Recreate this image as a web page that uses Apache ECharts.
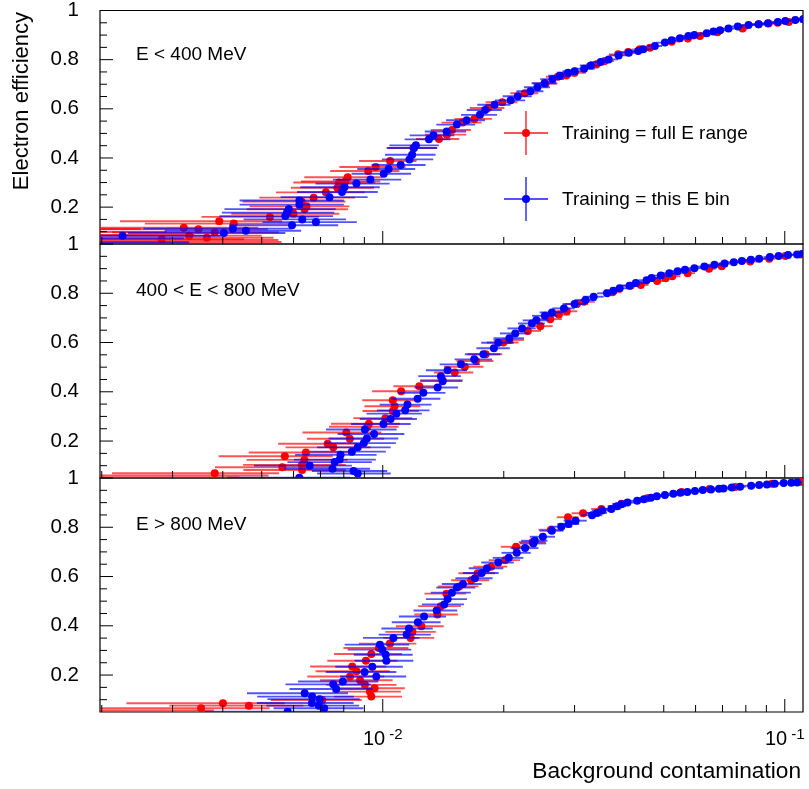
<!DOCTYPE html>
<html>
<head>
<meta charset="utf-8">
<script src="https://cdn.jsdelivr.net/npm/echarts@6/dist/echarts.min.js"></script>
<style>html,body{margin:0;padding:0;background:#fff;}#c{width:809px;height:789px;}</style>
</head>
<body>
<div id="c"></div>
<script>
// ---- data: [background contamination, electron efficiency, horizontal error] ----
const effLowRed = [
[0.0014,0.111,0.0011],[0.0015,0.099,0.0014],[0.0016,0.087,0.0018],[0.0017,0.066,0.0038],[0.0016,0.058,0.0040],
[0.00282,0.0692,0.0017],[0.00320,0.1165,0.0017],[0.00330,0.0839,0.0017],[0.00348,0.110,0.0017],[0.00365,0.0757,0.0017],
[0.00382,0.0978,0.0017],[0.00392,0.1427,0.0017],[0.00426,0.1329,0.0017],[0.00524,0.1602,0.0017],[0.00600,0.1733,0.0018],
[0.00628,0.2227,0.0018],[0.00639,0.1916,0.0018],[0.00646,0.2031,0.0018],[0.00673,0.2386,0.0018],[0.00722,0.2602,0.0018],
[0.00771,0.2786,0.0018],[0.00779,0.3002,0.0018],[0.00806,0.3043,0.0018],[0.00818,0.3215,0.0018],[0.00920,0.3472,0.0018],
[0.00960,0.3631,0.0018],[0.01043,0.3876,0.0017],[0.01192,0.4406,0.0017],[0.0138,0.4774,0.0017],[0.01444,0.4949,0.0017],
[0.01487,0.5141,0.0017],[0.0158,0.5439,0.0018],[0.01689,0.559,0.0018],[0.01827,0.6031,0.0018],[0.01983,0.6268,0.0018],
[0.02256,0.6635,0.0018],[0.0254,0.7031,0.0018],[0.02726,0.7305,0.0018],[0.02861,0.7358,0.0018],[0.0300,0.7468,0.002],
[0.03399,0.7807,0.002],[0.03565,0.7942,0.002],[0.0385,0.8215,0.002],[0.04078,0.8309,0.002],[0.04358,0.8419,0.002],
[0.0462,0.848,0.002],[0.0523,0.8733,0.0025],[0.0574,0.886,0.0025],[0.06152,0.8962,0.0025],[0.068,0.912,0.0025],
[0.07852,0.9264,0.0025],[0.0861,0.944,0.0033],[0.09117,0.9468,0.0033],[0.096,0.950,0.0033],[0.1023,0.9533,0.0033],[0.1112,0.9644,0.0033]
];
const effLowBlue = [
[0.0016,0.073,0.0016],[0.0015,0.057,0.0018],
[0.002253,0.0835,0.0017],[0.004024,0.0949,0.0017],[0.004237,0.1125,0.0017],[0.004566,0.1039,0.0017],[0.005723,0.1635,0.0018],
[0.005779,0.1778,0.0018],[0.005839,0.192,0.0018],[0.005947,0.1263,0.0018],[0.006204,0.2268,0.0018],[0.006204,0.21,0.0018],
[0.006305,0.15,0.0018],[0.006819,0.139,0.0018],[0.00737,0.2406,0.0018],[0.007919,0.2615,0.0018],[0.008034,0.2806,0.0018],
[0.0086,0.2957,0.0018],[0.009316,0.3121,0.0018],[0.01006,0.3357,0.0017],[0.01034,0.3549,0.0017],[0.01108,0.3717,0.0017],
[0.01165,0.3941,0.0017],[0.01183,0.4133,0.0017],[0.01196,0.4406,0.0017],[0.01209,0.4513,0.0017],[0.01303,0.4758,0.0017],
[0.01337,0.4921,0.0017],[0.01442,0.508,0.0017],[0.01529,0.5358,0.0017],[0.01617,0.5533,0.0018],[0.01745,0.5754,0.0018],
[0.01798,0.595,0.0018],[0.01898,0.6166,0.0018],[0.02081,0.6345,0.0018],[0.02167,0.6509,0.0018],[0.0233,0.6717,0.0018],
[0.02425,0.6876,0.0018],[0.02525,0.7043,0.0018],[0.02644,0.7207,0.0018],[0.02759,0.7345,0.0018],[0.02889,0.7468,0.0018],
[0.0300,0.7533,0.002],[0.03168,0.7631,0.002],[0.0329,0.7766,0.002],[0.03484,0.7901,0.002],[0.03647,0.8011,0.002],
[0.03862,0.8174,0.002],[0.04093,0.8284,0.002],[0.04319,0.835,0.002],[0.04446,0.8419,0.002],[0.04751,0.8554,0.002],
[0.05033,0.8693,0.0025],[0.0523,0.8786,0.0025],[0.05485,0.8868,0.0025],[0.05757,0.8962,0.0025],[0.05958,0.9003,0.0025],
[0.06395,0.9072,0.0025],[0.06646,0.9142,0.0025],[0.069,0.9195,0.0025],[0.07244,0.9264,0.0025],[0.07641,0.9346,0.0025],
[0.08126,0.9411,0.0033],[0.0861,0.944,0.0033],[0.0908,0.948,0.0033],[0.09614,0.9533,0.0033],[0.1003,0.9574,0.0033],
[0.1062,0.9615,0.0033],[0.1112,0.9644,0.0033]
];
const effMidRed = [
[0.0016,0.06,0.0036],[0.0014,0.052,0.0030],
[0.00382,0.0692,0.0017],[0.005626,0.0937,0.0018],[0.005707,0.1386,0.0018],[0.0063,0.0827,0.0018],[0.006293,0.1031,0.0018],
[0.006385,0.1235,0.0018],[0.00644,0.1533,0.0018],[0.007294,0.1888,0.0018],[0.007532,0.1745,0.0018],[0.008117,0.2349,0.0018],
[0.008281,0.2092,0.0018],[0.009152,0.2582,0.0018],[0.009237,0.2704,0.0018],[0.01015,0.2929,0.0017],[0.0106,0.3223,0.0017],
[0.0107,0.341,0.0017],[0.01059,0.3655,0.0017],[0.01111,0.4023,0.0017],[0.01233,0.4227,0.0017],[0.01409,0.4472,0.0017],
[0.0151,0.4786,0.0017],[0.016,0.5019,0.0018],[0.01705,0.5247,0.0018],[0.01803,0.5521,0.0018],[0.01995,0.60,0.0018],
[0.02065,0.6105,0.0018],[0.02295,0.6472,0.0018],[0.02466,0.6664,0.0018],[0.0261,0.695,0.0018],[0.02742,0.7133,0.0018],
[0.02869,0.7268,0.0018],[0.03041,0.7562,0.002],[0.03168,0.7656,0.002],[0.03726,0.804,0.002],[0.0414,0.8309,0.002],
[0.04384,0.8337,0.002],[0.04814,0.85,0.002],[0.05053,0.8611,0.0025],[0.05251,0.8693,0.0025],[0.05733,0.8815,0.0025],
[0.0648,0.8991,0.0025],[0.06972,0.91,0.0025],[0.08201,0.9289,0.0033],[0.09148,0.9399,0.0033],[0.1003,0.9509,0.0033],
[0.1093,0.9574,0.0033]
];
const effMidBlue = [
[0.0062,0.0508,0.0021],
[0.006581,0.1002,0.0018],[0.007498,0.0876,0.0018],[0.007593,0.1145,0.0018],[0.007813,0.1247,0.0018],[0.007852,0.1439,0.0018],
[0.008377,0.157,0.0018],[0.00846,0.0786,0.0018],[0.008665,0.0684,0.0018],[0.008665,0.1745,0.0018],[0.008976,0.1916,0.0018],
[0.009027,0.2472,0.0018],[0.009131,0.2104,0.0018],[0.009516,0.2284,0.0018],[0.01004,0.2692,0.0017],[0.01046,0.2896,0.0017],
[0.01081,0.3112,0.0017],[0.01137,0.3247,0.0017],[0.01152,0.348,0.0017],[0.01221,0.3717,0.0017],[0.01262,0.3957,0.0017],
[0.01369,0.4174,0.0017],[0.01395,0.4635,0.0017],[0.01409,0.4431,0.0017],[0.0145,0.4876,0.0017],[0.01565,0.5113,0.0018],
[0.01689,0.5317,0.0018],[0.0178,0.5521,0.0018],[0.0189,0.5766,0.0018],[0.01937,0.599,0.0018],[0.02065,0.6174,0.0018],
[0.02136,0.637,0.0018],[0.02222,0.6574,0.0018],[0.0235,0.6774,0.0018],[0.0241,0.69,0.0018],[0.02531,0.7084,0.0018],
[0.02636,0.7223,0.0018],[0.02823,0.7386,0.0018],[0.0300,0.7562,0.002],[0.03197,0.7725,0.002],[0.03346,0.786,0.002],
[0.03614,0.7999,0.002],[0.03747,0.8105,0.002],[0.03885,0.8203,0.002],[0.04109,0.8309,0.002],[0.0426,0.8419,0.002],
[0.04531,0.8529,0.002],[0.04662,0.8623,0.002],[0.04917,0.8717,0.002],[0.05162,0.8815,0.0025],[0.05413,0.8897,0.0025],
[0.05646,0.895,0.0025],[0.05958,0.9019,0.0025],[0.06312,0.9084,0.0025],[0.06684,0.9154,0.0025],[0.07081,0.9207,0.0025],
[0.07468,0.9264,0.0025],[0.07821,0.9305,0.0025],[0.08234,0.9358,0.0033],[0.08636,0.9399,0.0033],[0.09185,0.9468,0.0033],
[0.09654,0.9509,0.0033],[0.1019,0.955,0.0033],[0.1073,0.9574,0.0033],[0.111,0.9603,0.0033]
];
const effHighRed = [
[0.0016,0.056,0.0022],
[0.003532,0.0655,0.0017],[0.004004,0.0855,0.0017],[0.004646,0.0757,0.0017],[0.007068,0.099,0.0018],[0.008291,0.1941,0.0018],
[0.008396,0.2349,0.0018],[0.008605,0.2153,0.0018],[0.00878,0.1786,0.0018],[0.009027,0.1602,0.0018],[0.009079,0.2582,0.0018],
[0.009289,0.1329,0.0018],[0.009365,0.1125,0.0018],[0.009365,0.2855,0.0018],[0.009544,0.1467,0.0018],[0.009781,0.31,0.0018],
[0.01042,0.3276,0.0017],[0.01173,0.3508,0.0017],[0.01185,0.3753,0.0017],[0.01248,0.3982,0.0017],[0.01368,0.446,0.0017],
[0.01395,0.4798,0.0017],[0.0144,0.5305,0.0017],[0.0155,0.56,0.0018],[0.0166,0.585,0.0018],[0.01722,0.6133,0.0018],
[0.0186,0.64,0.0018],[0.02015,0.6664,0.0018],[0.02146,0.7207,0.0018],[0.0236,0.74,0.0018],[0.0262,0.79,0.0018],
[0.02889,0.8407,0.0018],[0.0315,0.857,0.002],[0.03498,0.8746,0.002],[0.03925,0.895,0.002],[0.0455,0.918,0.002],
[0.0554,0.9427,0.0025],[0.065,0.955,0.0025],[0.07525,0.9631,0.0025],[0.09291,0.9766,0.0033],[0.1104,0.9836,0.0033]
];
const effHighBlue = [
[0.0058,0.0508,0.0022],
[0.006395,0.1263,0.0018],[0.006672,0.1125,0.0018],[0.006664,0.0867,0.0018],[0.006937,0.0757,0.0018],[0.006965,0.1022,0.0018],
[0.00715,0.0651,0.0018],[0.007528,0.1623,0.0018],[0.00766,0.1431,0.0018],[0.007956,0.1737,0.0018],[0.009012,0.2121,0.0018],
[0.009418,0.2337,0.0018],[0.009636,0.1941,0.0018],[0.00984,0.3235,0.0018],[0.009977,0.3031,0.0018],[0.01017,0.2827,0.0017],
[0.01021,0.2582,0.0017],[0.01063,0.3508,0.0017],[0.01147,0.3643,0.0017],[0.01162,0.3888,0.0017],[0.01223,0.4145,0.0017],
[0.01267,0.4378,0.0017],[0.01362,0.4623,0.0017],[0.01422,0.4868,0.0017],[0.0145,0.5084,0.0017],[0.01486,0.5345,0.0017],
[0.01529,0.555,0.0017],[0.01583,0.5696,0.0018],[0.01696,0.5929,0.0018],[0.01762,0.6145,0.0018],[0.01816,0.6337,0.0018],
[0.01938,0.657,0.0018],[0.02058,0.6758,0.0018],[0.02154,0.6962,0.0018],[0.0226,0.7154,0.0018],[0.0237,0.7345,0.0018],
[0.02389,0.7452,0.0018],[0.02502,0.7615,0.0018],[0.02634,0.786,0.0018],[0.0278,0.8023,0.0018],[0.02899,0.8133,0.0018],
[0.03017,0.8268,0.002],[0.03316,0.8489,0.002],[0.03412,0.8582,0.002],[0.03512,0.8677,0.002],[0.03704,0.8746,0.002],
[0.03827,0.8856,0.002],[0.03925,0.8937,0.002],[0.04062,0.9003,0.002],[0.04294,0.9072,0.002],[0.04462,0.9142,0.002],
[0.04644,0.9195,0.002],[0.04806,0.9264,0.002],[0.05033,0.9305,0.0025],[0.05281,0.9358,0.0025],[0.05497,0.9399,0.0025],
[0.05724,0.9427,0.0025],[0.05978,0.9468,0.0025],[0.06251,0.9509,0.0025],[0.06555,0.9533,0.0025],[0.06862,0.9562,0.0025],
[0.0704,0.9574,0.0025],[0.07382,0.9615,0.0025],[0.07742,0.9644,0.0025],[0.08249,0.9685,0.0033],[0.08636,0.9713,0.0033],
[0.09029,0.9738,0.0033],[0.0944,0.9766,0.0033],[0.09939,0.9795,0.0033],[0.1038,0.9807,0.0033],[0.1073,0.9819,0.0033]
];

const panelLabels = ['E < 400 MeV', '400 < E < 800 MeV', 'E > 800 MeV'];
const legendLabels = ['Training = full E range', 'Training = this E bin'];
const xMajorTicks = [0.01, 0.1];
const xMinorTicks = [0.002,0.003,0.004,0.005,0.006,0.007,0.008,0.009,0.02,0.03,0.04,0.05,0.06,0.07,0.08,0.09];
const yMajorTicks = [0.2, 0.4, 0.6, 0.8, 1.0];
const yMinorTicks = [0.1, 0.15, 0.25, 0.3, 0.35, 0.45, 0.5, 0.55, 0.65, 0.7, 0.75, 0.85, 0.9, 0.95];
const xTitle = 'Background contamination';
const yTitle = 'Electron efficiency';

// ---- layout / style ----
const X_MIN = 0.00198, X_MAX = 0.111, Y_MIN = 0.05, Y_MAX = 1;
const FONT = '"Liberation Sans", Arial, Helvetica, sans-serif';
const GRID_LEFT = 100, GRID_W = 703, GRID_H = 234;
const gridTops = [10, 244, 478];
const RED = '#ff0000', BLUE = '#0000ff';
const RED_BAR = 'rgba(255,0,0,0.68)', BLUE_BAR = 'rgba(0,0,255,0.68)';

const chart = echarts.init(document.getElementById('c'), null, {renderer: 'canvas'});

function errRender(fill, stroke) {
  return function (params, api) {
    const x = api.value(0), y = api.value(1), e = api.value(2);
    const p = api.coord([x, y]);
    const lo = api.coord([Math.max(x - e, X_MIN * 0.5), y]);
    const hi = api.coord([x + e, y]);
    return {
      type: 'group',
      children: [
        {type: 'line', shape: {x1: lo[0], y1: p[1], x2: hi[0], y2: p[1]}, style: {stroke: stroke, lineWidth: 1.9}},
        {type: 'circle', shape: {cx: p[0], cy: p[1], r: 4}, style: {fill: fill}}
      ]
    };
  };
}
function xTickRender(params, api) {
  const cs = params.coordSys;
  const px = api.coord([api.value(0), 0.5])[0];
  const len = api.value(2) ? 13 : 7;
  const b = cs.y + cs.height;
  return {type: 'line', shape: {x1: px, y1: b, x2: px, y2: b - len}, style: {stroke: '#000', lineWidth: 1}};
}
function yTickRender(params, api) {
  const cs = params.coordSys;
  const py = api.coord([0.01, api.value(1)])[1];
  const len = api.value(2) ? 13 : 7;
  return {type: 'line', shape: {x1: cs.x, y1: py, x2: cs.x + len, y2: py}, style: {stroke: '#000', lineWidth: 1}};
}

const panelData = [[effLowRed, effLowBlue], [effMidRed, effMidBlue], [effHighRed, effHighBlue]];
const grids = [], xAxes = [], yAxes = [], series = [];
gridTops.forEach(function (top, i) {
  grids.push({left: GRID_LEFT, top: top, width: GRID_W, height: GRID_H, show: true, borderColor: '#000', borderWidth: 1.2, backgroundColor: 'transparent'});
  xAxes.push({
    type: 'log', logBase: 10, gridIndex: i, min: X_MIN, max: X_MAX,
    axisLine: {show: false}, axisTick: {show: false}, splitLine: {show: false}, minorTick: {show: false},
    axisLabel: {
      show: i === 2, margin: 15, showMinLabel: false, showMaxLabel: false,
      formatter: function (v) {
        const l = Math.log10(v), e = Math.round(l);
        if (Math.abs(l - e) > 1e-6) return '';
        if (e === -2 || e === -1) return '{b|10}{s|' + e + '}';
        return '';
      },
      rich: {
        b: {fontSize: 20, lineHeight: 22, verticalAlign: 'bottom', fontFamily: FONT, color: '#000'},
        s: {fontSize: 15, lineHeight: 16, verticalAlign: 'top', padding: [0, 0, 15, 4], fontFamily: FONT, color: '#000'}
      }
    }
  });
  yAxes.push({
    type: 'value', gridIndex: i, min: Y_MIN, max: Y_MAX, interval: 0.05,
    axisLine: {show: false}, axisTick: {show: false}, splitLine: {show: false},
    axisLabel: {
      show: true, margin: 21, fontSize: 20.5, fontFamily: FONT, color: '#000',
      formatter: function (v) {
        const k = Math.round(v * 100);
        if (k % 20 !== 0) return '';
        return k === 100 ? '1' : (k / 100).toFixed(1);
      }
    }
  });
  const xt = xMajorTicks.map(function (v) { return [v, 0.5, 1]; }).concat(xMinorTicks.map(function (v) { return [v, 0.5, 0]; }));
  const yt = yMajorTicks.map(function (v) { return [0.01, v, 1]; }).concat(yMinorTicks.map(function (v) { return [0.01, v, 0]; }));
  series.push({type: 'custom', xAxisIndex: i, yAxisIndex: i, silent: true, clip: false, renderItem: xTickRender, data: xt, encode: {x: 0, y: 1}, z: 5});
  series.push({type: 'custom', xAxisIndex: i, yAxisIndex: i, silent: true, clip: false, renderItem: yTickRender, data: yt, encode: {x: 0, y: 1}, z: 5});
  series.push({type: 'custom', xAxisIndex: i, yAxisIndex: i, silent: true, clip: true, renderItem: errRender(RED, RED_BAR), data: panelData[i][0], encode: {x: 0, y: 1}, z: 2});
  series.push({type: 'custom', xAxisIndex: i, yAxisIndex: i, silent: true, clip: true, renderItem: errRender(BLUE, BLUE_BAR), data: panelData[i][1], encode: {x: 0, y: 1}, z: 3});
});

const graphics = [];
const labelYs = [55, 291, 525];
panelLabels.forEach(function (t, i) {
  graphics.push({type: 'text', x: 136, y: labelYs[i], style: {text: t, fontSize: 19, fontFamily: FONT, fill: '#000', align: 'left', verticalAlign: 'middle', textAlign: 'left', textVerticalAlign: 'middle'}});
});
// legend
const legY = [133, 199], legCol = [[RED, RED_BAR], [BLUE, BLUE_BAR]];
legendLabels.forEach(function (t, i) {
  const y = legY[i];
  graphics.push({type: 'line', shape: {x1: 504, y1: y, x2: 548, y2: y}, style: {stroke: legCol[i][1], lineWidth: 1.8}});
  graphics.push({type: 'line', shape: {x1: 526, y1: y - 22, x2: 526, y2: y + 22}, style: {stroke: legCol[i][1], lineWidth: 1.8}});
  graphics.push({type: 'circle', shape: {cx: 526, cy: y, r: 4}, style: {fill: legCol[i][0]}});
  graphics.push({type: 'text', x: 562, y: y + 1, style: {text: t, fontSize: 19, fontFamily: FONT, fill: '#000', align: 'left', verticalAlign: 'middle', textAlign: 'left', textVerticalAlign: 'middle'}});
});
graphics.push({type: 'text', x: 22, y: 12, rotation: Math.PI / 2, style: {text: yTitle, fontSize: 22, fontFamily: FONT, fill: '#000', align: 'right', verticalAlign: 'middle', textAlign: 'right', textVerticalAlign: 'middle'}});
graphics.push({type: 'text', x: 801, y: 772, style: {text: xTitle, fontSize: 22.7, fontFamily: FONT, fill: '#000', align: 'right', verticalAlign: 'middle', textAlign: 'right', textVerticalAlign: 'middle'}});

chart.setOption({
  animation: false,
  backgroundColor: '#fff',
  grid: grids,
  xAxis: xAxes,
  yAxis: yAxes,
  series: series,
  graphic: graphics
});
</script>
</body>
</html>
